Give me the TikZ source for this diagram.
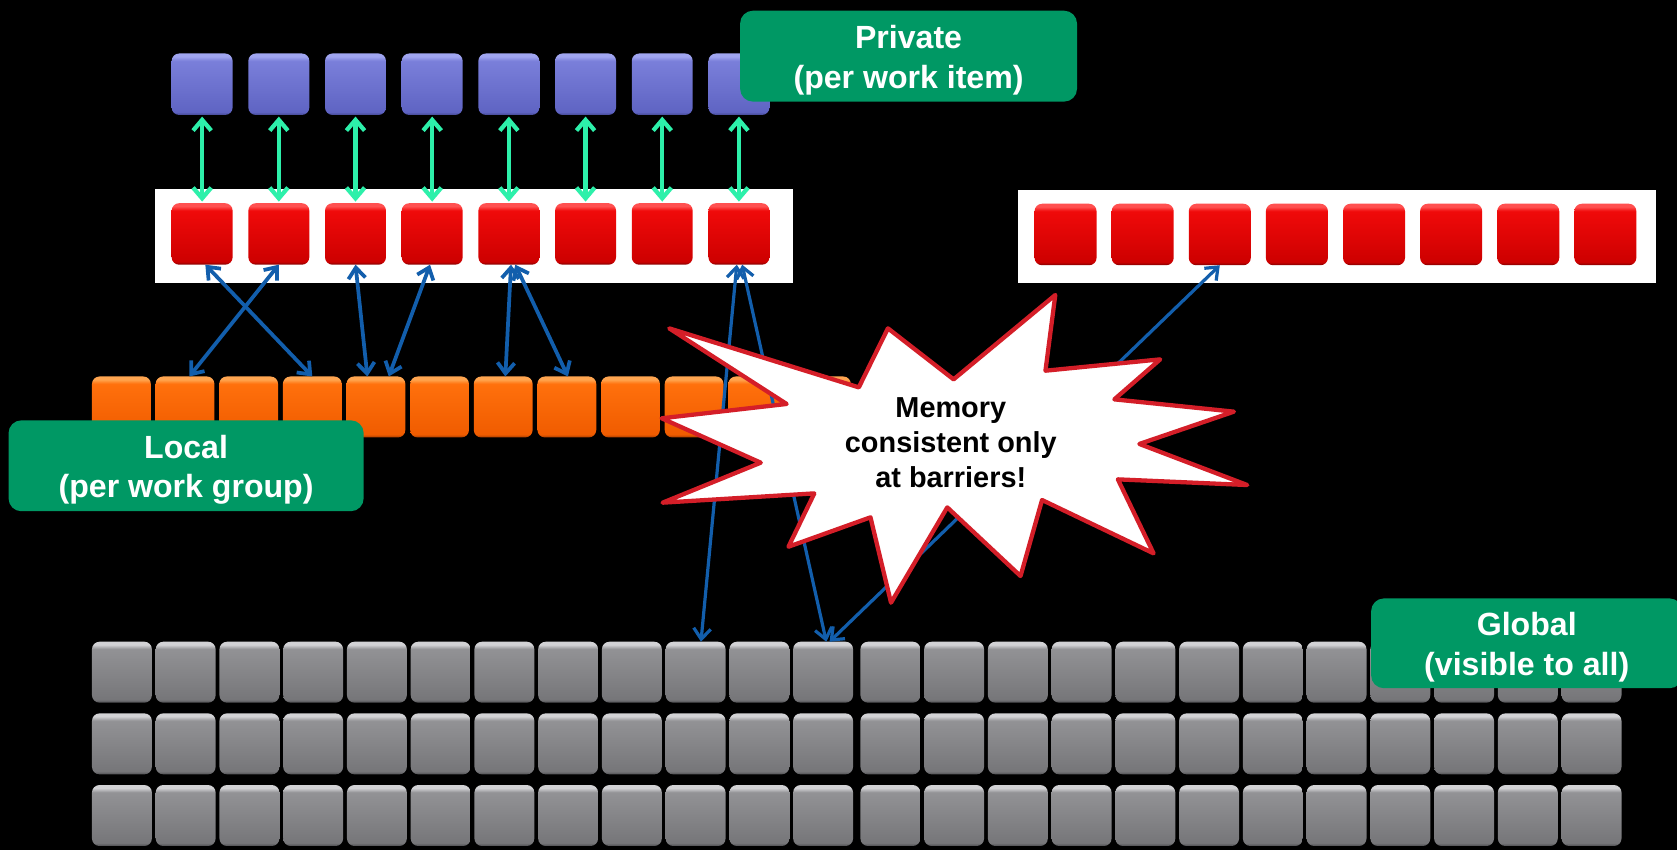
\documentclass[tikz,border=0pt]{standalone}
\usepackage{fontspec}
\setmainfont{Liberation Sans}
\usetikzlibrary{arrows.meta}

\definecolor{tagGreen}{RGB}{0,152,100}
\definecolor{linkGreen}{RGB}{45,240,170}
\definecolor{linkBlue}{RGB}{18,94,172}
\definecolor{burstRed}{RGB}{212,30,40}
% purple cells (private memory)
\definecolor{pHi}{RGB}{160,165,240}
\definecolor{pTop}{RGB}{122,127,218}
\definecolor{pBot}{RGB}{95,100,195}
\definecolor{pRim}{RGB}{68,72,148}
% red cells
\definecolor{rHi}{RGB}{255,80,80}
\definecolor{rTop}{RGB}{240,10,10}
\definecolor{rBot}{RGB}{205,0,0}
\definecolor{rRim}{RGB}{125,0,0}
% orange cells (local memory)
\definecolor{oHi}{RGB}{255,165,80}
\definecolor{oTop}{RGB}{255,112,12}
\definecolor{oBot}{RGB}{240,92,0}
\definecolor{oRim}{RGB}{165,60,0}
% gray cells (global memory)
\definecolor{gHi}{RGB}{210,210,213}
\definecolor{gTop}{RGB}{146,146,149}
\definecolor{gBot}{RGB}{118,118,121}
\definecolor{gRim}{RGB}{78,78,81}

% glossy vertical shading: highlight on top, dark rim at the bottom
\newcommand\cellshading[5]{%
  \pgfdeclareverticalshading{#1}{100bp}{color(0bp)=(#5); color(25bp)=(#5);
    color(27.5bp)=(#4); color(69bp)=(#3); color(72.5bp)=(#2); color(75bp)=(#2); color(100bp)=(#2)}}
\cellshading{purpleshade}{pHi}{pTop}{pBot}{pRim}
\cellshading{redshade}{rHi}{rTop}{rBot}{rRim}
\cellshading{orangeshade}{oHi}{oTop}{oBot}{oRim}
\cellshading{grayshade}{gHi}{gTop}{gBot}{gRim}

% extra height above the first line of a tag, to sit the text a little lower
\newcommand\tagstrut{\rule{0pt}{29.5pt}}

\tikzset{
  cell/.style={shade, rounded corners=7pt, minimum width=57pt, minimum height=57.5pt,
    inner sep=0pt, outer sep=0pt, anchor=north west},
  panel/.style={fill=white, inner sep=0pt, outer sep=0pt, anchor=north west},
  greenlink/.style={draw=linkGreen, line width=4pt, >={Straight Barb[length=10pt,width=17pt]}, <->,
    shorten <=1.5pt, shorten >=1.5pt},
  bluelink/.style={draw=linkBlue, line width=3.5pt, >={Straight Barb[length=10pt,width=16pt]}, <->},
  thinlink/.style={bluelink, line width=3pt},
  tagbox/.style={fill=tagGreen, rounded corners=12pt, text=white, align=center, inner sep=0pt,
    font=\fontsize{30}{37}\selectfont\bfseries},
  burst/.style={fill=white, draw=burstRed, line width=4pt, line join=round},
}

\begin{document}
\begin{tikzpicture}[x=1pt, y=-1pt]
\useasboundingbox (0,0) rectangle (1568,795);
\clip (0,0) rectangle (1568,795);
\fill[black] (0,0) rectangle (1568,795);

% white panels holding the work-group rows
\node[panel, minimum width=596pt, minimum height=87.5pt] (lpanel) at (145,177) {};
\node[panel, minimum width=596.5pt, minimum height=87pt] (rpanel) at (952,177.6) {};

% private cells and the two rows of red cells
\foreach \i in {1,...,8} {
  \node[cell, shading=purpleshade] (p\i) at ({160.5+71.7*(\i-1)},50) {};
  \node[cell, shading=redshade] (r\i) at ({160.5+71.7*(\i-1)},190) {};
  \node[cell, shading=redshade, minimum width=58pt] (q\i) at ({967.3+72.1*(\i-1)},190.5) {};
}

% local memory row
\foreach \i in {1,...,12}
  \node[cell, shading=orangeshade, minimum width=55pt, minimum height=57pt] (o\i) at ({86+59.5*(\i-1)},352) {};

% global memory grid
\foreach \r/\y in {1/600,2/667,3/734}
  \foreach \c in {1,...,24} {
    \pgfmathsetmacro\gx{86+59.6*(\c-1)+(\c>12)*3.3}
    \node[cell, shading=grayshade, minimum width=56pt, minimum height=57pt] (g-\r-\c) at (\gx,\y) {};
  }

% private <-> work item links
\foreach \i in {1,...,8}
  \draw[greenlink] (p\i.south) -- (r\i.north);

% work items <-> local / global memory
\draw[bluelink] ([xshift=3pt]r1.south) -- ([xshift=0pt]o4.north);
\draw[bluelink] ([xshift=0pt]r2.south) -- ([xshift=4pt]o2.north);
\draw[bluelink] (r3.south) -- ([xshift=-8pt]o5.north);
\draw[bluelink] ([xshift=-2pt]r4.south) -- ([xshift=12pt]o5.north);
\draw[bluelink] ([xshift=2pt]r5.south) -- ([xshift=2pt]o7.north);
\draw[bluelink] ([xshift=6pt]r5.south) -- ([xshift=1pt]o8.north);
\draw[thinlink] ([xshift=-2pt]r8.south) -- ([xshift=5pt]g-1-10.north);
\draw[thinlink] ([xshift=3pt]r8.south) -- ([xshift=3pt]g-1-12.north);
\draw[thinlink] (q3.south) -- ([xshift=6pt]g-1-12.north);

% warning burst
\draw[burst] (625.7,307) -- (803,362.2) -- (830.2,307) -- (891.6,354.7) -- (986.7,275.8)
  -- (977.5,346.6) -- (1084.8,336) -- (1041.9,373.4) -- (1153.7,384.9) -- (1065.3,415.1)
  -- (1166.2,453.5) -- (1045.2,448.2) -- (1078.6,517.4) -- (974.3,467.5) -- (954.2,538.6)
  -- (885.7,474.4) -- (833.1,563.5) -- (813.9,483.7) -- (737.2,511.2) -- (761.4,461.3)
  -- (619.5,470) -- (711.3,432.6) -- (618.6,391.1) -- (735.5,377.7) -- cycle;
\node[align=center, text=black, inner sep=0pt, font=\fontsize{27}{33}\selectfont\bfseries]
  (note) at (889,414) {Memory\\consistent only\\at barriers!};

% memory level tags
\node[tagbox, minimum width=315pt, minimum height=85pt] (privtag) at (849.5,52.5) {\tagstrut Private\\(per work item)};
\node[tagbox, minimum width=332pt, minimum height=85pt] (loctag) at (174,435.5) {\tagstrut Local\\(per work group)};
\node[tagbox, minimum width=291pt, minimum height=84pt] (globtag) at (1427.5,601.5) {\tagstrut Global\\(visible to all)};
\end{tikzpicture}
\end{document}
